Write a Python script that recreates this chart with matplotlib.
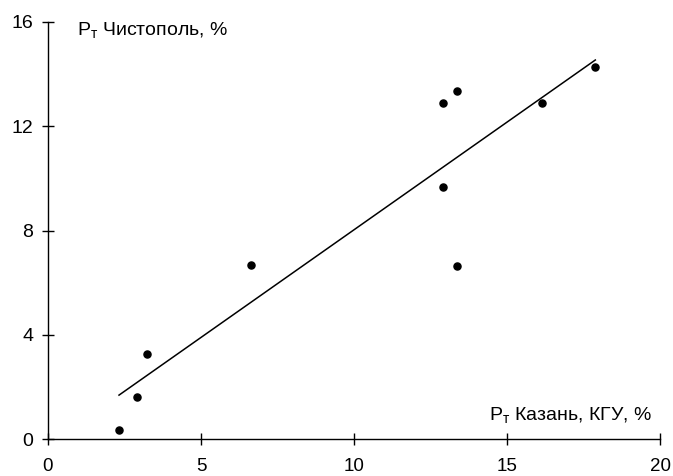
import numpy as np
import matplotlib
matplotlib.use("Agg")
import matplotlib.pyplot as plt

# P_t values, Kazan (KGU) vs Chistopol, %
kazan = [2.32, 2.9, 3.22, 6.63, 12.9, 13.36, 12.9, 13.36, 16.15, 17.88]
chistopol = [0.35, 1.61, 3.25, 6.68, 12.9, 13.34, 9.67, 6.65, 12.9, 14.29]
x_ticks = [0, 5, 10, 15, 20]
y_ticks = [0, 4, 8, 12, 16]

plt.rcParams['font.family'] = ['Liberation Sans', 'DejaVu Sans']
plt.rcParams['mathtext.fontset'] = 'custom'
plt.rcParams['mathtext.rm'] = 'Liberation Sans'
plt.rcParams['mathtext.it'] = 'Liberation Sans'

fig = plt.figure(figsize=(6.73, 4.76), dpi=100)
ax = fig.add_axes([0.0713, 0.0777, 0.9097, 0.8761])

ax.scatter(kazan, chistopol, s=26, color='black', zorder=3)

# linear trend line over the data range
k, b = np.polyfit(kazan, chistopol, 1)
xs = np.array([min(kazan), max(kazan)])
ax.plot(xs, k * xs + b, color='black', linewidth=1.1)

ax.set_xlim(0, 20)
ax.set_ylim(0, 16)
ax.set_xticks(x_ticks)
ax.set_yticks(y_ticks)
ax.spines['top'].set_visible(False)
ax.spines['right'].set_visible(False)
ax.spines['left'].set_linewidth(1)
ax.spines['bottom'].set_linewidth(1)
ax.tick_params(axis='both', direction='inout', length=8.5, width=1, labelsize=14)
ax.tick_params(axis='x', pad=9.5, labelsize=13.5)
ax.tick_params(axis='y', pad=6.5)

ax.text(0.95, 15.7, r'P$_\mathrm{т}$ Чистополь, %', fontsize=14, va='center', ha='left')
ax.text(19.74, 0.92, r'P$_\mathrm{т}$ Казань, КГУ, %', fontsize=14, va='center', ha='right')

plt.savefig('out.png', dpi=100)
plt.close()
